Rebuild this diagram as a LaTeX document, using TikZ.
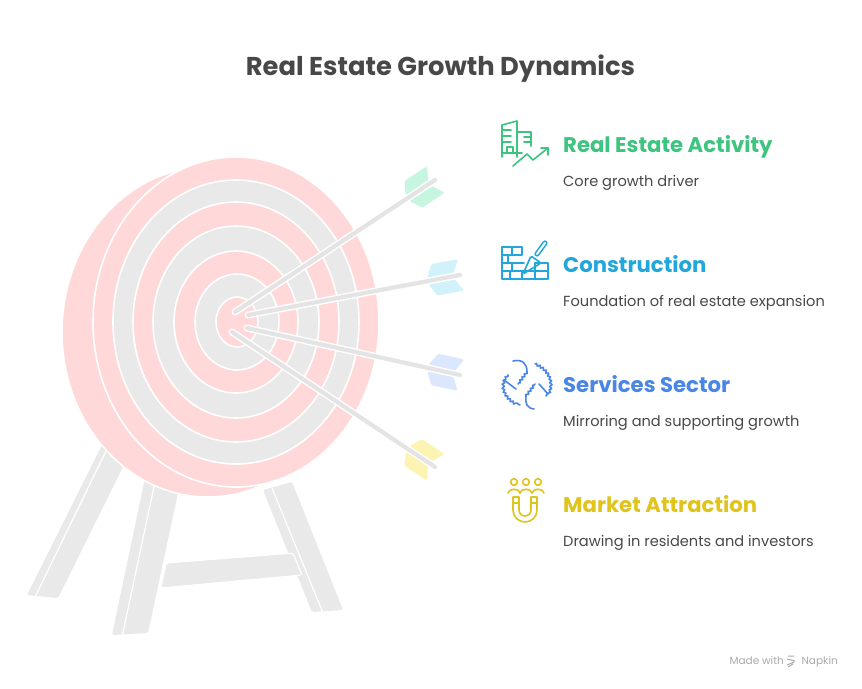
\documentclass[tikz,border=0pt]{standalone}
\usepackage{fontspec}
\setmainfont{Poppins}
\usetikzlibrary{decorations.pathmorphing}
\definecolor{pinkT}{HTML}{FFD9D9}
\definecolor{grayT}{HTML}{E9E9E9}
\definecolor{shaftC}{HTML}{E4E4E4}
\definecolor{cGreen}{HTML}{3DC47E}
\definecolor{cCyan}{HTML}{22A7DA}
\definecolor{cBlue}{HTML}{4A86E8}
\definecolor{cYellow}{HTML}{E0C41C}
\definecolor{fGreen}{HTML}{C6F6DF}
\definecolor{fCyan}{HTML}{D2F2FB}
\definecolor{fBlue}{HTML}{DBE7FC}
\definecolor{fYellow}{HTML}{FDF4B4}
\definecolor{txtC}{HTML}{484848}
\definecolor{markC}{HTML}{AAAAAA}
\begin{document}
\begin{tikzpicture}[x=1pt,y=-1pt,
  ring/.style={draw=white,line width=1.6},
  legline/.style={draw=white,line width=1.2},
  icon/.style={line width=1.6,line cap=round,line join=round},
  wavy/.style={decorate,decoration={snake,amplitude=1.1pt,segment length=3.8pt}},
  heading/.style={anchor=base west,inner sep=0,font=\fontsize{21.2}{24}\selectfont\bfseries},
  desc/.style={anchor=base west,inner sep=0,text=txtC,font=\fontsize{14.6}{17}\selectfont},
  vane/.style={rounded corners=1.5}]
\useasboundingbox (0,0) rectangle (862,688);
\fill[white] (0,0) rectangle (862,688);

% title
\node[anchor=base,inner sep=0,text=txtC,font=\fontsize{25.8}{30}\selectfont\bfseries] (title) at (440.5,75) {Real Estate Growth Dynamics};

% legs
\fill[grayT,rounded corners=1.5] (103,443)--(125,463)--(58,598)--(27,595)--cycle;
\draw[legline] (108,447)--(35,597);
\fill[grayT,rounded corners=1.5] (145,478)--(178,493)--(148,633)--(112,635)--cycle;
\draw[legline] (155,482)--(122,637);
\fill[grayT,rounded corners=1.5] (263,490)--(292,482)--(343,610)--(312,612)--cycle;
\draw[legline] (272,488)--(323,613);
\filldraw[fill=grayT,legline,rounded corners=2] (166,563)--(293,553)--(302,575)--(161,588)--cycle;

% target
\filldraw[fill=pinkT,ring] (208,332) ellipse [x radius=146,y radius=165];
\filldraw[fill=pinkT,ring] (236,322) ellipse [x radius=143,y radius=165];
\filldraw[fill=grayT,ring] (236,322) ellipse [x radius=123,y radius=142];
\filldraw[fill=pinkT,ring] (236,322) ellipse [x radius=103,y radius=120];
\filldraw[fill=grayT,ring] (236,322) ellipse [x radius=83,y radius=96];
\filldraw[fill=pinkT,ring] (236,322) ellipse [x radius=62,y radius=71];
\filldraw[fill=grayT,ring] (237,322) ellipse [x radius=42,y radius=48];
\filldraw[fill=pinkT,ring] (237,322) ellipse [x radius=21,y radius=25];

% arrows
\coordinate (t1) at (235,312); \coordinate (e1) at (435,180);
\coordinate (t2) at (248,315); \coordinate (e2) at (460,275);
\coordinate (t3) at (247,328); \coordinate (e3) at (460,375);
\coordinate (t4) at (232,332); \coordinate (e4) at (435,467);
\foreach \e/\ang/\fc in {e1/33.4/fGreen,e2/10.7/fCyan,e3/-12.4/fBlue,e4/-33.6/fYellow}{
  \begin{scope}[shift={(\e)},rotate=\ang]
    \fill[\fc,vane] (-33,3)--(-6,3)--(1,16)--(-26,16)--cycle;
    \fill[\fc,vane] (-33,-3)--(-6,-3)--(1,-16)--(-26,-16)--cycle;
  \end{scope}
}
\foreach \t/\e in {t1/e1,t2/e2,t3/e3,t4/e4}{
  \draw[white,line width=7,line cap=round] (\t)--(\e);
  \draw[shaftC,line width=4.2,line cap=round] (\t)--(\e);
}

% icon 1: buildings + trend
\begin{scope}[cGreen,icon]
  \draw (502,157)--(502,125)--(517,121)--(517,157);
  \draw (502,130)--(511,130) (502,136)--(511,136) (502,142)--(511,142);
  \draw (507,153)--(507,147)--(513,147)--(513,153);
  \draw (502,153)--(522,153);
  \draw (517,132)--(531,132)--(531,146);
  \draw (524,137)--(531,137) (524,142)--(531,142);
  \draw (513,166)--(527,154)--(533,160)--(548,148);
  \draw (541,148)--(548,148)--(548,155);
\end{scope}

% icon 2: bricks + trowel
\begin{scope}[cCyan,icon]
  \draw (502,247) rectangle (522,255); \draw (512,247)--(512,255);
  \draw (502,255)--(502,263)--(524,263); \draw (508,255)--(508,263);
  \draw (502,263)--(502,271)--(520,271); \draw (512,263)--(512,271);
  \draw (502,271) rectangle (548,279);
  \draw (510,271)--(510,279) (522,271)--(522,279) (535,271)--(535,279);
  \draw (535,271)--(535,263)--(548,263)--(548,271);
  \draw[line width=5.2] (537,254)--(545,243);
  \draw[white,line width=2] (537,254)--(545,243);
  \draw[rounded corners=1.5] (531,256)--(541,263)--(523,274)--cycle;
\end{scope}

% icon 3: hands
\begin{scope}[cBlue,icon]
  \draw (513,361) .. controls (522,359) and (527,363) .. (527,372);
  \draw[wavy] (527,372) -- (518,384);
  \draw[wavy] (508,375) .. controls (499,385) and (505,399) .. (520,405);
  \draw (504,380) -- (516,389);
  \draw[wavy] (535,364) .. controls (552,371) and (553,388) .. (546,396);
  \draw (534,409) .. controls (527,408) and (525,404) .. (526,396);
  \draw[wavy] (526,396) -- (535,384);
  \draw (539,384) -- (548,394);
\end{scope}

% icon 4: magnet + people
\begin{scope}[cYellow,icon]
  \draw (514,482) circle [radius=3.3] (526,482) circle [radius=3.3] (538,482) circle [radius=3.3];
  \draw (508,493) .. controls (509,488) and (519,488) .. (520,493);
  \draw (520,493) .. controls (521,488) and (531,488) .. (532,493);
  \draw (532,493) .. controls (533,488) and (543,488) .. (544,493);
  \draw (513,497)--(513,510) arc[start angle=180,end angle=0,radius=12]--(537,497)--(531,497)--(531,510) arc[start angle=0,end angle=180,radius=6]--(519,497)--cycle;
  \draw (513,503)--(519,503) (531,503)--(537,503);
\end{scope}

% texts
\node[heading,text=cGreen] (h1) at (563,152.5) {Real Estate Activity};
\node[desc] (d1) at (563,186) {Core growth driver};
\node[heading,text=cCyan] (h2) at (563,272.5) {Construction};
\node[desc] (d2) at (563,306) {Foundation of real estate expansion};
\node[heading,text=cBlue] (h3) at (563,392.5) {Services Sector};
\node[desc] (d3) at (563,426) {Mirroring and supporting growth};
\node[heading,text=cYellow] (h4) at (563,512.5) {Market Attraction};
\node[desc] (d4) at (563,546) {Drawing in residents and investors};

% made with napkin
\node[anchor=base east,inner sep=0,text=markC,font=\fontsize{10.5}{12}\selectfont] (nap) at (838,664) {Napkin};
\node[anchor=base east,inner sep=0,text=markC,font=\fontsize{10.5}{12}\selectfont] (made) at (784,664) {Made with};
\draw[markC,line width=1] (788,656)--(794,656) (787,659)--(795,661) (787,665)--(794,662) (788,667)--(793,664);
\end{tikzpicture}
\end{document}
